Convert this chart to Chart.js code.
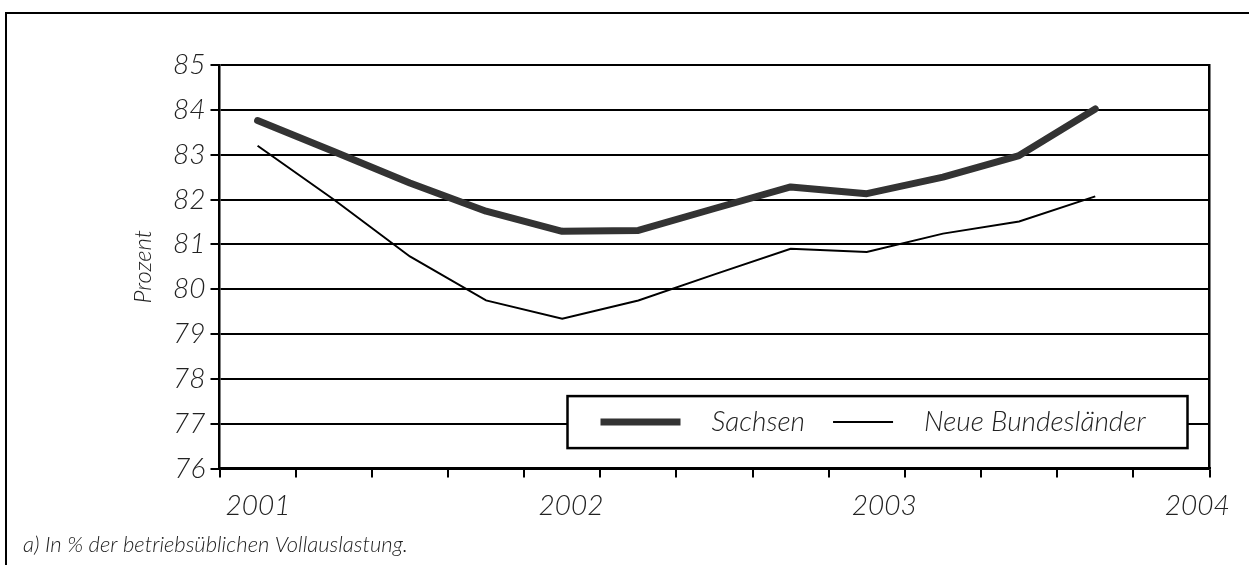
<!DOCTYPE html>
<html lang="de">
<head>
<meta charset="utf-8">
<title>Kapazitätsauslastung</title>
<script src="https://cdn.jsdelivr.net/npm/chart.js@4.4.1/dist/chart.umd.min.js"></script>
<style>
  html, body { margin: 0; padding: 0; background: #fff; overflow: hidden; }
  #frame {
    position: absolute; left: 5px; top: 12px; width: 1300px; height: 600px;
    border-left: 2.5px solid #000; border-top: 2.5px solid #000;
  }
  #wrap { position: absolute; left: 0; top: 0; width: 1249px; height: 565px; }
</style>
</head>
<body>
<div id="frame"></div>
<div id="wrap"><canvas id="chart"></canvas></div>
<script>
// quarterly data, 2001 Q1 .. 2003 Q4 (last slot stays empty)
const quarters = [
  "2001 Q1", "2001 Q2", "2001 Q3", "2001 Q4",
  "2002 Q1", "2002 Q2", "2002 Q3", "2002 Q4",
  "2003 Q1", "2003 Q2", "2003 Q3", "2003 Q4",
  "2004 Q1",
];
const sachsen = [83.76, 83.07, 82.37, 81.74, 81.29, 81.31, 81.8, 82.28, 82.13, 82.5, 82.98, 84.02];
const neueLaender = [83.2, 82.0, 80.73, 79.75, 79.34, 79.75, 80.33, 80.9, 80.83, 81.24, 81.51, 82.07];
const yearTicks = [2001, 2002, 2003, 2004];
const yMin = 76;
const yMax = 85;
const footnote = "a) In % der betriebsüblichen Vollauslastung.";

const FONT = "Lato, 'Open Sans', sans-serif";
const TEXT = "#222";

// legend in a framed white box, drawn from the datasets
const boxLegend = {
  id: "boxLegend",
  afterDatasetsDraw(chart) {
    const { ctx, chartArea } = chart;
    const x = chartArea.left + 348;
    const y = chartArea.bottom - 72.5;
    const w = 620;
    const h = 52;
    ctx.save();
    ctx.fillStyle = "#fff";
    ctx.fillRect(x, y, w, h);
    ctx.lineWidth = 2.5;
    ctx.strokeStyle = "#000";
    ctx.strokeRect(x, y, w, h);
    ctx.font = "italic 300 28px " + FONT;
    ctx.textBaseline = "middle";
    const cy = y + h / 2;
    let cx = x + 33;
    chart.data.datasets.forEach((ds, i) => {
      const sample = i === 0 ? 80 : 60;
      ctx.beginPath();
      ctx.moveTo(cx, cy);
      ctx.lineTo(cx + sample, cy);
      ctx.lineWidth = ds.borderWidth;
      ctx.strokeStyle = ds.borderColor;
      ctx.lineCap = "butt";
      ctx.stroke();
      ctx.fillStyle = TEXT;
      ctx.fillText(ds.label, cx + sample + 31, cy);
      cx += sample + 31 + ctx.measureText(ds.label).width + 28;
    });
    ctx.restore();
  },
};

new Chart(document.getElementById("chart"), {
  type: "line",
  data: {
    labels: quarters,
    datasets: [
      {
        label: "Sachsen",
        data: sachsen,
        borderColor: "#333333",
        borderWidth: 7,
        borderCapStyle: "round",
        borderJoinStyle: "round",
        pointRadius: 0,
        tension: 0,
        xAxisID: "x",
      },
      {
        label: "Neue Bundesländer",
        data: neueLaender,
        borderColor: "#000000",
        borderWidth: 2,
        pointRadius: 0,
        tension: 0,
        xAxisID: "x",
      },
    ],
  },
  options: {
    responsive: true,
    maintainAspectRatio: false,
    animation: false,
    layout: { padding: { left: 23, top: 65, right: 39.5, bottom: 7 } },
    scales: {
      x: {
        type: "category",
        offset: true,
        weight: 0,
        grid: {
          offset: true,
          drawOnChartArea: false,
          drawTicks: true,
          tickLength: 9,
          color: "#000",
          lineWidth: 2,
        },
        border: { display: true, color: "#000", width: 2.5 },
        ticks: { display: false, autoSkip: false },
        afterFit: (s) => { s.height = 9; },
      },
      years: {
        type: "linear",
        position: "bottom",
        weight: 1,
        min: 2000.877,
        max: 2004.039,
        grid: { display: false, drawTicks: false },
        border: { display: false },
        afterBuildTicks: (s) => { s.ticks = yearTicks.map((v) => ({ value: v })); },
        ticks: {
          padding: 12,
          color: TEXT,
          font: { family: FONT, size: 28, style: "italic", weight: 300 },
          callback: (v) => String(v),
        },
        afterFit: (s) => { s.height = 54; },
      },
      y: {
        min: yMin,
        max: yMax,
        grid: { color: "#000", lineWidth: 2, drawTicks: true, tickLength: 9 },
        border: { display: true, color: "#000", width: 2.5 },
        ticks: {
          stepSize: 1,
          padding: 5,
          color: TEXT,
          font: { family: FONT, size: 28, style: "italic", weight: 300 },
        },
        title: {
          display: true,
          text: "Prozent",
          color: TEXT,
          padding: { top: 106, bottom: 0 },
          font: { family: FONT, size: 24, style: "italic", weight: 300 },
        },
        afterFit: (s) => { s.width = 196.5; },
      },
      yRight: {
        position: "right",
        min: yMin,
        max: yMax,
        grid: { display: false },
        border: { display: true, color: "#000", width: 2.5 },
        ticks: { display: false },
        afterFit: (s) => { s.width = 0; },
      },
    },
    plugins: {
      legend: { display: false },
      tooltip: { enabled: false },
      subtitle: {
        display: true,
        position: "bottom",
        align: "start",
        text: footnote,
        color: TEXT,
        padding: { top: 0, bottom: 0 },
        font: { family: FONT, size: 22, style: "italic", weight: 300 },
      },
    },
  },
  plugins: [boxLegend],
});
</script>
</body>
</html>
